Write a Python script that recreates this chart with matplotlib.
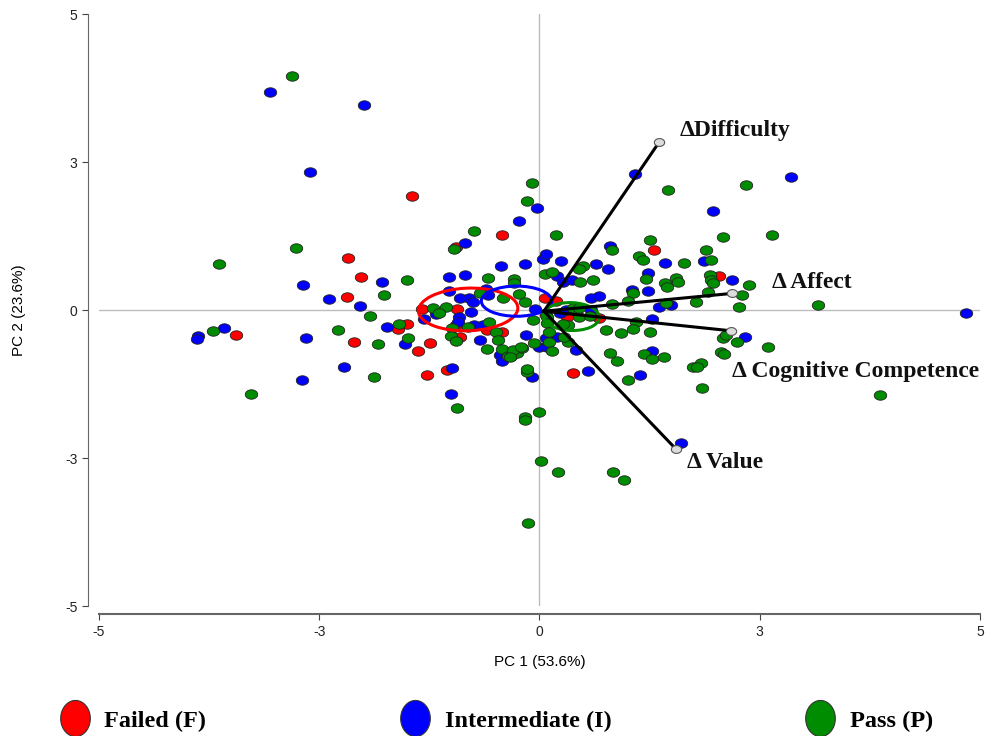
import numpy as np
import matplotlib
matplotlib.use("Agg")
import matplotlib.pyplot as plt
from matplotlib.patches import Ellipse
from matplotlib.lines import Line2D

# ==========================================
# DATA (PCA scores)
# ==========================================

failed_pc1 = [-1.45, -0.42, -0.95, -2.17, -2.03, -2.19, -1.33, -0.94, -0.95, -0.60,
              -0.42, -0.90, -1.61, -1.50, -2.11, -1.38, -1.24, -3.45, -1.28, -1.05,
              0.06, 0.19, 0.31, 0.68, 1.30, 2.04, 0.38, 0.07]
failed_pc2 = [1.92, 1.26, 1.06, 0.88, 0.56, 0.22, 0.02, 0.02, -0.26, -0.33,
              -0.37, -0.46, -0.32, -0.24, -0.54, -0.69, -0.55, -0.42, -1.10, -1.02,
              0.20, 0.15, -0.12, -0.13, 1.01, 0.58, -1.07, -0.09]

inter_pc1 = [-3.06, -1.99, -2.61, -0.85, -1.79, -2.69, -2.39, -2.04, -1.03, -0.85,
             -0.44, -1.03, -0.90, -0.80, -0.76, -0.61, -0.58, -0.78, -1.31, -1.18,
             -0.91, -0.92, -0.74, -0.64, -0.67, -0.45, -0.42, -1.73, -1.53, -2.65,
             -3.88, -3.89, -3.58, -2.22, -2.70, -0.99, -1.01, -0.17, 0.04, 0.07,
             -0.05, -0.15, 0.80, 1.43, 0.24, 0.64, 0.78, 0.20, 0.27, 0.37,
             1.23, 1.05, 1.23, 0.59, 0.68, 1.36, 1.49, 1.28, 0.59, 1.87,
             2.18, -0.03, -0.23, 1.08, 2.85, 1.97, 2.33, 0.20, 0.07, 0.00,
             0.09, 0.42, 1.28, 0.55, 1.14, -0.08, 1.61, 4.84, 0.23, 0.30]
inter_pc2 = [3.68, 3.47, 2.34, 1.14, 0.48, 0.42, 0.18, 0.06, 0.55, 0.59,
             0.74, 0.33, 0.20, 0.20, 0.14, 0.36, 0.25, -0.03, -0.15, -0.07,
             -0.11, -0.20, -0.25, -0.25, -0.51, -0.76, -0.86, -0.29, -0.58, -0.47,
             -0.44, -0.49, -0.31, -0.96, -1.18, -0.98, -1.42, 0.77, 0.86, 0.95,
             0.01, -0.42, 1.09, 0.79, 0.82, 0.77, 0.70, 0.58, 0.48, 0.51,
             0.63, 0.34, 0.33, 0.21, 0.23, 0.05, 0.08, -0.15, 0.00, 0.83,
             0.51, 1.73, 1.50, 2.30, 2.25, 1.68, -0.46, -0.45, -0.48, -0.62,
             -0.63, -0.68, -0.69, -1.03, -1.10, -1.13, -2.24, -0.05, -0.05, 0.00]

pass_pc1 = [-2.81, -0.74, -0.97, -2.76, -3.64, -1.50, -1.76, -0.59, -0.67, -0.41,
            -1.92, -1.21, -1.06, -1.14, -0.99, -0.81, -0.57, -0.49, -1.01, -0.95,
            -0.47, -0.60, -0.43, -0.36, -1.59, -1.49, -1.83, -2.29, -3.71, -1.88,
            -3.28, -0.94, 0.06, -0.29, -0.29, -0.23, -0.17, -0.07, 0.08, 0.09,
            0.19, 0.82, 1.25, 1.13, 1.17, 0.49, 0.45, 0.14, 0.46, 0.61,
            1.21, 1.42, 1.45, 1.55, 1.57, 1.06, 0.82, 1.01, 1.44, 1.10,
            0.76, 0.92, 1.06, 1.25, 0.45, 0.57, 0.32, 1.64, 1.95, 1.89,
            1.93, 1.95, 1.97, 2.38, 1.91, 2.30, 2.26, 3.16, 1.78, -0.09,
            -0.14, 1.46, 2.34, 2.08, 2.64, 2.08, 2.12, 2.24, 2.59, 2.06,
            2.10, 1.41, 1.74, 1.83, 1.79, 0.11, 0.32, -0.06, 0.14, 0.80,
            0.88, 1.19, 1.28, 1.01, -0.01, -0.32, -0.26, -0.20, -0.14, -0.17,
            -0.17, 0.02, 0.21, 0.83, 0.96, -0.13, 1.85, 3.86, 0.38, 0.45,
            0.27, 0.11, 0.28, -0.30, -0.21, -0.34, -0.14]
pass_pc2 = [3.95, 1.33, 1.03, 1.04, 0.78, 0.50, 0.25, 0.54, 0.29, 0.21,
            -0.10, 0.03, 0.05, -0.05, -0.31, -0.29, -0.21, -0.37, -0.44, -0.52,
            -0.51, -0.65, -0.65, -0.78, -0.24, -0.47, -0.57, -0.33, -0.35, -1.13,
            -1.41, -1.65, 0.61, 0.53, 0.45, 0.27, 0.14, -0.16, -0.11, -0.22,
            1.26, 1.01, 1.18, 0.92, 0.84, 0.75, 0.69, 0.64, 0.48, 0.51,
            0.52, 0.46, 0.39, 0.54, 0.47, 0.28, 0.11, 0.15, 0.12, -0.21,
            -0.34, -0.39, -0.32, -0.37, -0.12, -0.10, -0.25, 0.80, 0.84, 1.02,
            0.59, 0.51, 0.45, 0.42, 0.30, 0.25, 0.05, 0.09, 0.14, 2.15,
            1.85, 2.03, 2.12, 1.23, 1.26, -0.48, -0.42, -0.54, -0.62, -0.71,
            -0.74, -0.79, -0.97, -0.90, -0.96, -0.54, -0.54, -0.56, -0.70, -0.73,
            -0.86, -0.75, -0.83, -1.18, -1.73, -0.78, -0.72, -0.64, -1.04, -1.81,
            -1.86, -2.55, -2.74, -2.74, -2.87, -3.60, -1.31, -1.44, 0.03, 0.03,
            -0.24, -0.37, -0.45, -0.68, -0.63, -0.79, -0.99]

# group ellipses: centre x, centre y, width, height, angle
ell_cx = [-0.81, -0.26, 0.36]
ell_cy = [0.01, 0.15, -0.11]
ell_w = [1.13, 0.80, 0.64]
ell_h = [0.72, 0.51, 0.47]
ell_ang = [4, 0, -5]

# loading vectors
load_names = ["\u0394Difficulty", "\u0394 Affect", "\u0394 Cognitive Competence", "\u0394 Value"]
load_x = [1.36, 2.18, 2.17, 1.55]
load_y = [2.84, 0.28, -0.35, -2.35]
origin = (0.05, -0.02)

group_names = ["Failed (F)", "Intermediate (I)", "Pass (P)"]
group_colors = ["#ff0000", "#0000ff", "#008c00"]

tick_vals = [-5, -2.5, 0, 2.5, 5]
tick_text = ["-5", "-3", "0", "3", "5"]

# ==========================================
# PLOT
# ==========================================

plt.rcParams["font.family"] = "Liberation Sans"

fig = plt.figure(figsize=(9.95, 7.36), dpi=100)
ax = fig.add_axes([0.0995, 0.1766, 0.8854, 0.8043])

t = np.linspace(0, 2 * np.pi, 60)
dot = np.column_stack([np.cos(t), 0.76 * np.sin(t)])

ax.axhline(0, color="#bdbdbd", lw=1, zorder=0)
ax.axvline(0, color="#bdbdbd", lw=1, zorder=0)

groups = [(failed_pc1, failed_pc2), (inter_pc1, inter_pc2), (pass_pc1, pass_pc2)]
for (gx, gy), col in zip(groups, group_colors):
    ax.scatter(gx, gy, s=80, marker=dot, c=col, edgecolors="#222222",
               linewidths=0.6, zorder=2)

for cx, cy, w, h, a, col in zip(ell_cx, ell_cy, ell_w, ell_h, ell_ang, group_colors):
    ax.add_patch(Ellipse((cx, cy), w, h, angle=a, fill=False, edgecolor=col,
                         lw=2.2, zorder=3))

for lx, ly in zip(load_x, load_y):
    ax.plot([origin[0], lx], [origin[1], ly], color="black", lw=2.2, zorder=4)
ax.scatter(load_x, load_y, s=55, marker=dot, c="#dcdcdc", edgecolors="#555555",
           linewidths=0.8, zorder=5)

label_pos = [(1.59, 3.04), (2.64, 0.46), (2.19, -1.03), (1.68, -2.57)]
for name, (tx, ty) in zip(load_names, label_pos):
    ax.text(tx, ty, name, fontsize=17, fontweight="bold", family="Liberation Serif",
            ha="left", va="center", color="#111111")

ax.set_xlim(-5, 5)
ax.set_ylim(-5, 5)
ax.set_xticks(tick_vals)
ax.set_xticklabels(tick_text)
ax.set_yticks(tick_vals)
ax.set_yticklabels(tick_text)
ax.tick_params(labelsize=10, length=4, color="#444444", labelcolor="#222222")

for side in ["top", "right"]:
    ax.spines[side].set_visible(False)
ax.spines["left"].set_position(("outward", 8))
ax.spines["bottom"].set_position(("outward", 6))
ax.spines["left"].set_color("#666666")
ax.spines["bottom"].set_color("#666666")
ax.spines["bottom"].set_linewidth(1.5)

ax.set_xlabel("PC 1 (53.6%)", fontsize=11, labelpad=12)
ax.set_ylabel("PC 2 (23.6%)", fontsize=11, labelpad=28)

# legend
leg_dot = np.column_stack([0.82 * np.cos(t), np.sin(t)])
handles = [Line2D([], [], ls="none", marker=leg_dot, markersize=26,
                  markerfacecolor=c, markeredgecolor="#333333", markeredgewidth=0.8)
           for c in group_colors]
fig.legend(handles, group_names, loc="lower left", bbox_to_anchor=(0.061, 0.006),
           ncol=3, frameon=False, borderpad=0, borderaxespad=0,
           handlelength=1.2, columnspacing=8.0, handletextpad=0.6,
           prop={"family": "Liberation Serif", "weight": "bold", "size": 17.5})

fig.savefig("out.png", dpi=100)
